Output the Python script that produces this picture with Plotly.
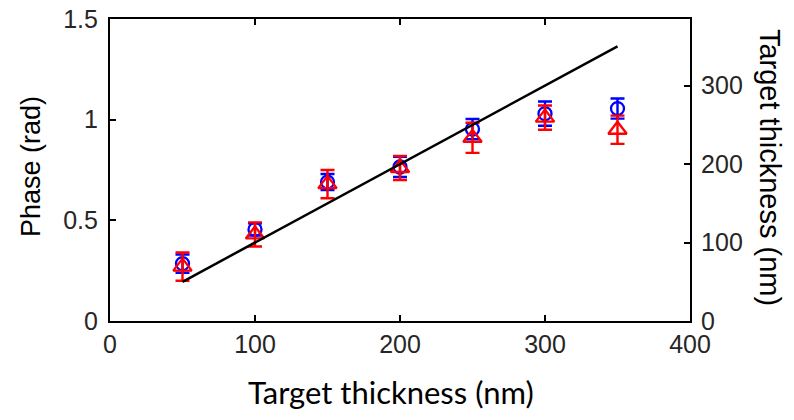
import plotly.graph_objects as go

thickness = [50, 100, 150, 200, 250, 300, 350]
phase_blue = [0.285, 0.455, 0.69, 0.765, 0.953, 1.03, 1.055]
err_blue = [0.045, 0.03, 0.04, 0.05, 0.05, 0.06, 0.05]
phase_red = [0.27, 0.43, 0.68, 0.76, 0.91, 1.01, 0.95]
err_red = [0.07, 0.06, 0.07, 0.06, 0.075, 0.06, 0.07]
line_x = [50, 350]
line_y = [50, 350]

fig = go.Figure()
fig.add_trace(go.Scatter(
    x=line_x, y=line_y, mode="lines", yaxis="y2",
    line=dict(color="black", width=2.5), showlegend=False))
fig.add_trace(go.Scatter(
    x=thickness, y=phase_blue, mode="markers",
    marker=dict(symbol="circle-open", size=13, color="#0000ff", line=dict(width=2.3)),
    error_y=dict(type="data", array=err_blue, color="#0000ff", thickness=2.4, width=7),
    showlegend=False))
fig.add_trace(go.Scatter(
    x=thickness, y=phase_red, mode="markers",
    marker=dict(symbol="triangle-up-open", size=16, color="#ff0000", line=dict(width=2.3)),
    error_y=dict(type="data", array=err_red, color="#ff0000", thickness=2.4, width=7),
    showlegend=False))

tickfont = dict(family="Liberation Sans", size=25, color="#262626")
axis_common = dict(automargin=False, showline=True, linecolor="black", linewidth=2.2,
                   ticks="inside", ticklen=6, tickwidth=2, tickcolor="black",
                   showgrid=False, zeroline=False, tickfont=tickfont,
                   ticklabeloverflow="allow")
fig.update_layout(
    width=786, height=412,
    margin=dict(l=102, r=104, t=11, b=99),
    paper_bgcolor="white", plot_bgcolor="white",
    xaxis=dict(range=[0, 400], tickvals=[0, 100, 200, 300, 400], mirror="ticks", **axis_common),
    yaxis=dict(range=[0, 1.5], tickvals=[0, 0.5, 1, 1.5], ticktext=["0", "0.5", "1", "1.5"],
               ticklabelstandoff=5, **axis_common),
    yaxis2=dict(range=[0, 385], tickvals=[0, 100, 200, 300], overlaying="y", side="right",
                ticklabelstandoff=4, **axis_common),
    annotations=[
        dict(text="Target thickness (nm)", xref="paper", yref="paper", x=0.485, y=-0.235,
             xanchor="center", yanchor="middle", showarrow=False,
             font=dict(family="Lato", size=31, color="black")),
        dict(text="Phase (rad)", xref="paper", yref="paper", x=-0.136, y=0.51,
             xanchor="center", yanchor="middle", showarrow=False, textangle=-90,
             font=dict(family="Liberation Sans", size=27, color="black")),
        dict(text="Target thickness (nm)", xref="paper", yref="paper", x=1.138, y=0.51,
             xanchor="center", yanchor="middle", showarrow=False, textangle=90,
             font=dict(family="Liberation Sans", size=29, color="black")),
    ],
)
fig.write_html("out.html")
